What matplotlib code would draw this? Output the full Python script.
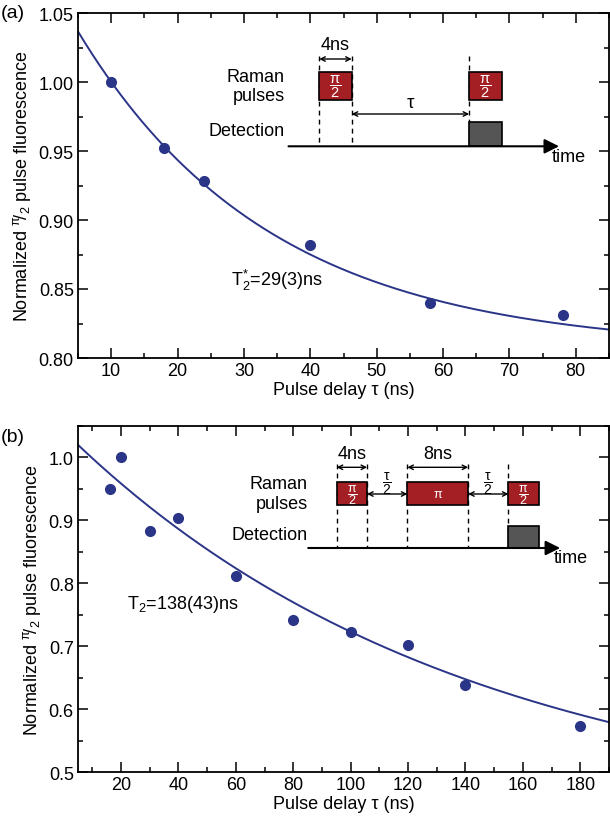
import matplotlib
matplotlib.use("Agg")
import matplotlib.pyplot as plt
import numpy as np
from matplotlib.patches import Rectangle
from matplotlib.ticker import MultipleLocator

plt.rcParams['font.family'] = ['Liberation Sans', 'DejaVu Sans']
plt.rcParams['mathtext.fontset'] = 'custom'
plt.rcParams['mathtext.rm'] = 'Liberation Sans'
plt.rcParams['mathtext.it'] = 'Liberation Sans'
plt.rcParams['mathtext.default'] = 'regular'
plt.rcParams['font.size'] = 13

# (a) Ramsey, pi/2 - tau - pi/2
delay_a = [10, 18, 24, 40, 58, 78]
fluor_a = [1.000, 0.952, 0.928, 0.882, 0.840, 0.831]
fit_a = (0.274, 29.0, 0.806)  # amplitude, T2*, offset

# (b) spin echo, pi/2 - tau/2 - pi - tau/2 - pi/2
delay_b = [16, 20, 30, 40, 60, 80, 100, 120, 140, 180]
fluor_b = [0.950, 1.001, 0.883, 0.903, 0.812, 0.742, 0.722, 0.702, 0.638, 0.573]
fit_b = (0.619, 138.0, 0.423)  # amplitude, T2, offset

navy = '#2b3588'
red = '#a31f24'
W, H = 610, 829

fig = plt.figure(figsize=(W / 100, H / 100), dpi=100)


def px_axes(x0, y0, x1, y1):
    return fig.add_axes([x0 / W, 1 - y1 / H, (x1 - x0) / W, (y1 - y0) / H])


def style(ax, xmin, ymin):
    ax.xaxis.set_minor_locator(MultipleLocator(xmin))
    ax.yaxis.set_minor_locator(MultipleLocator(ymin))
    ax.tick_params(which='both', direction='in', top=True, right=True, width=1.1)
    ax.tick_params(which='major', length=7, pad=3)
    ax.tick_params(which='minor', length=3.5)
    for s in ax.spines.values():
        s.set_linewidth(1.3)


ylab = r"Normalized $^{\pi}\!/_{2}$ pulse fluorescence"

ax1 = px_axes(78, 14, 609, 359)
t = np.linspace(5, 85, 300)
A, T, C = fit_a
ax1.plot(t, A * np.exp(-t / T) + C, color=navy, lw=1.4)
ax1.plot(delay_a, fluor_a, 'o', color=navy, ms=7)
ax1.set_xlim(5, 85)
ax1.set_ylim(0.80, 1.05)
ax1.set_xticks(np.arange(10, 81, 10))
ax1.set_yticks(np.arange(0.80, 1.051, 0.05))
ax1.yaxis.set_major_formatter(matplotlib.ticker.FormatStrFormatter('%.2f'))
style(ax1, 5, 0.025)
ax1.set_xlabel("Pulse delay τ (ns)", labelpad=1)
ax1.set_ylabel(ylab, labelpad=4)
ax1.text(28, 0.857, r"T$_2^{*}$=29(3)ns", va='center')

ax2 = px_axes(78, 427, 609, 773)
t = np.linspace(5, 190, 300)
A, T, C = fit_b
ax2.plot(t, A * np.exp(-t / T) + C, color=navy, lw=1.4)
ax2.plot(delay_b, fluor_b, 'o', color=navy, ms=7)
ax2.set_xlim(5, 190)
ax2.set_ylim(0.5, 1.05)
ax2.set_xticks(np.arange(20, 181, 20))
ax2.set_yticks(np.arange(0.5, 1.01, 0.1))
ax2.yaxis.set_major_formatter(matplotlib.ticker.FormatStrFormatter('%.1f'))
style(ax2, 10, 0.05)
ax2.set_xlabel("Pulse delay τ (ns)", labelpad=1)
ax2.set_ylabel(ylab, labelpad=4)
ax2.text(22, 0.768, r"T$_2$=138(43)ns", va='center')

fig.text(1 / W, 1 - 14 / H, "(a)", va='center', ha='left', fontsize=14)
fig.text(1 / W, 1 - 437 / H, "(b)", va='center', ha='left', fontsize=14)


def arrow2(ax, x0, x1, y):
    ax.annotate('', xy=(x1, y), xytext=(x0, y),
                arrowprops=dict(arrowstyle='<->', lw=1, mutation_scale=8,
                                shrinkA=0, shrinkB=0, color='k'))


def sequence(box, scale, t0px, pulses, det, base, rows, marks, spans, label_x, pfs):
    # schematic axes: x in ns, y in pixel rows of the figure
    x0, y0, x1, y1 = box
    ax = px_axes(x0, y0, x1, y1)
    ax.set_xlim((x0 - t0px) / scale, (x1 - t0px) / scale)
    ax.set_ylim(y1, y0)
    ax.axis('off')
    top, bot, dtop, ybase = rows
    for (ts, te, lab) in pulses:
        ax.add_patch(Rectangle((ts, top), te - ts, bot - top, fc=red, ec='k', lw=1.2, zorder=3))
        ax.text((ts + te) / 2, (top + bot) / 2, lab, color='white', ha='center',
                va='center', fontsize=pfs, zorder=4)
    ax.add_patch(Rectangle((det[0], dtop), det[1] - det[0], ybase - dtop, fc='#555555',
                           ec='k', lw=1.2, zorder=3))
    for xm, ytop in marks:
        ax.plot([xm, xm], [ytop, ybase], color='k', lw=1, ls=(0, (3.5, 3)), zorder=1)
    for (sa, sb, y, lab, ly, fs) in spans:
        arrow2(ax, sa, sb, y)
        ax.text((sa + sb) / 2, ly, lab, ha='center', va='center', fontsize=fs)
    ax.annotate('', xy=(base[1], ybase), xytext=(base[0], ybase),
                arrowprops=dict(arrowstyle='-|>', lw=1.5, mutation_scale=22,
                                shrinkA=0, shrinkB=0, color='k'))
    ax.text(base[1] - 0.9, ybase + 10, "time", ha='left', va='center')
    ax.text(label_x, (top + bot) / 2, "Raman\npulses", ha='right', va='center',
            linespacing=1.2)
    ax.text(label_x, dtop + 8.5, "Detection", ha='right', va='center')


half = r"$\dfrac{\pi}{2}$"
tau2 = r"$\dfrac{\tau}{2}$"
sequence((200, 30, 610, 175), 8.1, 319.3,
         [(0, 4, half), (18.5, 22.5, half)], (18.5, 22.5), (-3.8, 29.6),
         (72.7, 101, 123.3, 147.3),
         [(0, 57), (4, 57), (18.5, 57)],
         [(0, 4, 60, "4ns", 45, 13), (4, 18.5, 115, "τ", 104, 13.5)],
         -4.3, 10.5)

sequence((200, 440, 610, 575), 7.6, 336.7,
         [(0, 4, half), (9.3, 17.3, r"$\pi$"), (22.6, 26.6, half)], (22.6, 26.6),
         (-3.75, 29.4), (483.3, 506, 527.3, 549),
         [(0, 465), (4, 465), (9.3, 465), (17.3, 465), (22.6, 465)],
         [(0, 4, 468.3, "4ns", 455, 13), (9.3, 17.3, 468.3, "8ns", 455, 13),
          (4, 9.3, 495, tau2, 484, 10),
          (17.3, 22.6, 495, tau2, 484, 10)],
         -3.8, 9)

fig.savefig("out.png", dpi=100)
